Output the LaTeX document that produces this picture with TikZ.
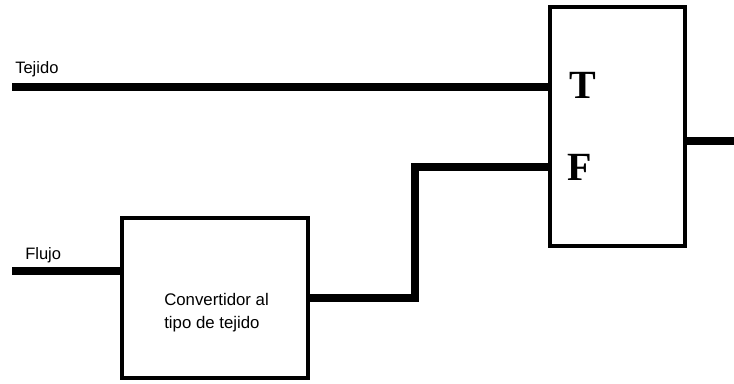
\documentclass[tikz,border=0pt]{standalone}
\usepackage{fontspec}
\setmainfont{Liberation Sans}
\newfontfamily\serifbold{Liberation Serif}
\begin{document}
\begin{tikzpicture}[x=0.75pt,y=-0.75pt,
  blockbox/.style={draw=black,line width=2.3pt,fill=white,inner sep=0pt},
  wire/.style={line width=6pt},
  lbl/.style={inner sep=0pt,font=\fontsize{12.4}{15}\selectfont},
  port/.style={inner sep=0pt,font=\serifbold\bfseries\fontsize{30}{30}\selectfont}]
\useasboundingbox (0,0) rectangle (734,383);
\node[blockbox,minimum width=101.25pt,minimum height=179.25pt] (big) at (617.5,126.5) {};
\node[blockbox,minimum width=139.5pt,minimum height=120pt] (conv) at (215,298) {};
\node[port] (T) at (583,85) {T};
\node[port] (F) at (580,167) {F};
\node[lbl,anchor=base west] (tej) at (15,73) {Tejido};
\node[lbl,anchor=base west] (flu) at (25,259) {Flujo};
\node[lbl,anchor=north west,align=left,font=\fontsize{12.6}{17}\selectfont] (convtxt) at (164,293) {Convertidor al\\tipo de tejido};
\coordinate (tin) at (12,87);
\coordinate (fin) at (12,271);
\coordinate (fout) at (308,298);
\coordinate (fmid) at (415,167);
\coordinate (oend) at (734,141);
\coordinate (oout) at (685,141);
\draw[wire] (tin) -- (tin -| big.west);
\draw[wire] (fin) -- (fin -| conv.west);
\draw[wire,line join=miter] (fout -| conv.east) -- (fout -| fmid) -- (fmid) -- (fmid -| big.west);
\draw[wire] (oout -| big.east) -- (oend);
\end{tikzpicture}
\end{document}
